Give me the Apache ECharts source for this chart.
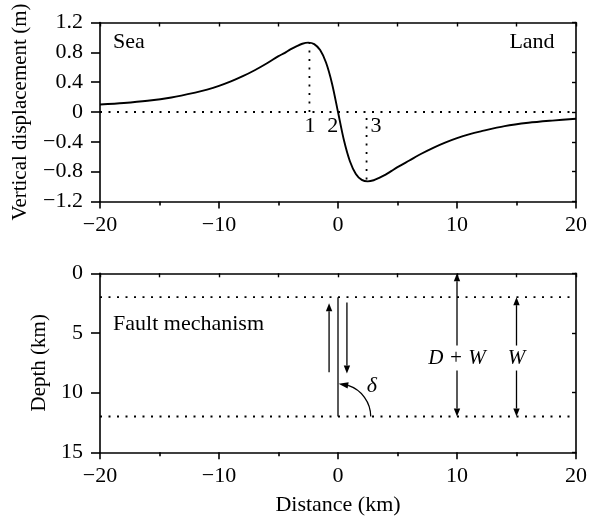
<!DOCTYPE html>
<html>
<head>
<meta charset="utf-8">
<script src="https://cdn.jsdelivr.net/npm/echarts@6/dist/echarts.min.js"></script>
<style>
html, body { margin: 0; padding: 0; background: #fff; }
#chart { width: 589px; height: 521px; }
</style>
</head>
<body>
<div id="chart"></div>
<script>
// Vertical surface displacement across the fault trace (distance in km, displacement in m)
const distanceKm = [-20, -18, -16, -14, -12, -11, -10, -9, -8, -7, -6, -5, -4.5, -4, -3.5, -3, -2.5, -2, -1.5, -1, -0.5,
  0, 0.5, 1, 1.5, 2, 2.5, 3, 3.5, 4, 4.5, 5, 6, 7, 8, 9, 10, 11, 12, 14, 16, 18, 20];
const displacementM = [0.10, 0.12, 0.15, 0.195, 0.26, 0.30, 0.35, 0.41, 0.48, 0.56, 0.65, 0.75, 0.79, 0.84, 0.88, 0.915, 0.93, 0.91, 0.83, 0.66, 0.38,
  0, -0.38, -0.66, -0.83, -0.91, -0.93, -0.915, -0.88, -0.84, -0.79, -0.74, -0.65, -0.56, -0.48, -0.41, -0.35, -0.30, -0.26, -0.19, -0.145, -0.115, -0.09];

// Reference points on the profile: 1 = crest, 2 = zero crossing, 3 = trough
const crest = { x: -2.4, y: 0.93 };
const trough = { x: 2.4, y: -0.93, top: -0.08 };
const pointNames = ['1', '2', '3'];
const pointNameX = [-2.35, -0.45, 3.2];
const pointNameY = -0.19;

// Fault model (km): vertical fault from depth D to D + W
const faultX = 0;
const faultTopKm = 2;
const faultBottomKm = 12;
const slipArrows = [
  { x: -0.75, from: 8.3, to: 2.5 },   // up-thrown side
  { x: 0.75, from: 2.45, to: 8.4 }    // down-thrown side
];
const dimensionArrows = [
  { x: 10, from: 0, to: 12, name: 'D + W' },
  { x: 15, from: 2, to: 12, name: 'W' }
];
const dimensionNameDepth = 7.1;
const dipAngleRadiusKm = 2.75;
const dipLabel = { x: 2.85, depth: 9.45, name: 'δ' };

const FONT = 'Liberation Serif, Times New Roman, serif';
const FS = 22;
const INK = '#000';

const fmt = v => {
  const r = Math.round(v * 10) / 10;
  return r < 0 ? '\u2212' + String(-r) : String(r);
};

function bottomX(gridIndex, withName) {
  return {
    type: 'value', gridIndex, position: 'bottom', min: -20, max: 20, interval: 10,
    axisLine: { onZero: false, lineStyle: { color: INK, width: 1.6 } },
    axisTick: { show: true, inside: false, length: 7, lineStyle: { color: INK, width: 1.6 } },
    minorTick: { show: true, splitNumber: 2, length: 4, lineStyle: { color: INK, width: 1.6 } },
    axisLabel: { margin: 13, fontFamily: FONT, fontSize: FS, color: INK, formatter: fmt },
    splitLine: { show: false },
    name: withName ? 'Distance (km)' : '',
    nameLocation: 'middle', nameGap: 42,
    nameTextStyle: { fontFamily: FONT, fontSize: FS, color: INK }
  };
}
function topX(gridIndex) {
  return {
    type: 'value', gridIndex, position: 'top', min: -20, max: 20, interval: 5,
    axisLine: { onZero: false, lineStyle: { color: INK, width: 1.6 } },
    axisTick: { show: true, inside: true, length: 4, lineStyle: { color: INK, width: 1.4 } },
    axisLabel: { show: false }, splitLine: { show: false }
  };
}
function leftY(gridIndex, opts) {
  return Object.assign({
    type: 'value', gridIndex, position: 'left',
    axisLine: { onZero: false, lineStyle: { color: INK, width: 1.6 } },
    axisTick: { show: true, inside: false, length: 9, lineStyle: { color: INK, width: 1.6 } },
    axisLabel: { margin: 17, fontFamily: FONT, fontSize: FS, color: INK, formatter: fmt },
    splitLine: { show: false },
    nameLocation: 'middle',
    nameTextStyle: { fontFamily: FONT, fontSize: 21, color: INK }
  }, opts);
}
function rightY(gridIndex, opts) {
  return Object.assign({
    type: 'value', gridIndex, position: 'right',
    axisLine: { onZero: false, lineStyle: { color: INK, width: 1.6 } },
    axisTick: { show: true, inside: true, length: 4, lineStyle: { color: INK, width: 1.4 } },
    axisLabel: { show: false }, splitLine: { show: false }
  }, opts);
}

const dotted = { color: INK, width: 1.8, type: [2, 6.5], cap: 'butt' };

function lineSeg(xi, yi, pts, style, z) {
  return {
    type: 'line', xAxisIndex: xi, yAxisIndex: yi, data: pts, symbol: 'none',
    lineStyle: style, silent: true, z: z || 2, animation: false
  };
}

// Text placed in data coordinates
function textSeries(xi, yi, items, style) {
  return {
    type: 'custom', xAxisIndex: xi, yAxisIndex: yi, silent: true, z: 6, animation: false,
    data: items.map((t, i) => [t.x, t.y, i]),
    renderItem(params, api) {
      const p = api.coord([api.value(0), api.value(1)]);
      const t = items[api.value(2)];
      return {
        type: 'text', x: p[0], y: p[1],
        style: Object.assign({
          text: t.text, fontFamily: FONT, fontSize: FS, fill: INK,
          align: t.align || 'center', verticalAlign: 'middle'
        }, style)
      };
    }
  };
}

// Vertical arrows: [x, fromDepth, toDepth, headAtFrom, headAtTo]
function arrowSeries(items) {
  return {
    type: 'custom', xAxisIndex: 2, yAxisIndex: 2, silent: true, z: 4, animation: false,
    data: items,
    renderItem(params, api) {
      const a = api.coord([api.value(0), api.value(1)]);
      const b = api.coord([api.value(0), api.value(2)]);
      const headLen = 8, half = 3.2;
      const dir = Math.sign(b[1] - a[1]);
      const y1 = api.value(3) ? a[1] + dir * headLen : a[1];
      const y2 = api.value(4) ? b[1] - dir * headLen : b[1];
      const children = [{
        type: 'line', shape: { x1: a[0], y1: y1, x2: b[0], y2: y2 },
        style: { stroke: INK, lineWidth: 1.3 }
      }];
      const head = (tip, d) => ({
        type: 'polygon',
        shape: { points: [[tip[0], tip[1]], [tip[0] - half, tip[1] - d * headLen], [tip[0] + half, tip[1] - d * headLen]] },
        style: { fill: INK }
      });
      if (api.value(3)) children.push(head(a, -dir));
      if (api.value(4)) children.push(head(b, dir));
      return { type: 'group', children };
    }
  };
}

const arrowRows = []
  .concat(slipArrows.map(s => [s.x, s.from, s.to, 0, 1]))
  .concat(dimensionArrows.map(d => [d.x, d.from, d.to, 1, 1]));

// Dip angle arc swept from the surface-parallel direction up to the fault
const dipArcSeries = {
  type: 'custom', xAxisIndex: 2, yAxisIndex: 2, silent: true, z: 4, animation: false,
  data: [[faultX, faultBottomKm, dipAngleRadiusKm]],
  renderItem(params, api) {
    const c = api.coord([api.value(0), api.value(1)]);
    const e = api.coord([api.value(0) + api.value(2), api.value(1)]);
    const r = e[0] - c[0];
    const endA = -72 * Math.PI / 180, tipA = -89 * Math.PI / 180;
    const pt = ang => [c[0] + r * Math.cos(ang), c[1] + r * Math.sin(ang)];
    const tip = pt(tipA), base = pt(endA);
    const dx = tip[0] - base[0], dy = tip[1] - base[1];
    const len = Math.hypot(dx, dy);
    const nx = -dy / len * 3.2, ny = dx / len * 3.2;
    return {
      type: 'group',
      children: [
        { type: 'arc', shape: { cx: c[0], cy: c[1], r: r, startAngle: 0, endAngle: endA, clockwise: false },
          style: { stroke: INK, lineWidth: 1.3, fill: null } },
        { type: 'polygon', shape: { points: [tip, [base[0] + nx, base[1] + ny], [base[0] - nx, base[1] - ny]] },
          style: { fill: INK } }
      ]
    };
  }
};

const chart = echarts.init(document.getElementById('chart'), null, { renderer: 'canvas' });
chart.setOption({
  animation: false,
  backgroundColor: '#fff',
  grid: [
    { left: 100, top: 22.5, width: 476, height: 179, outerBoundsMode: 'none', containLabel: false },
    { left: 100, top: 273.3, width: 476, height: 179, outerBoundsMode: 'none', containLabel: false }
  ],
  xAxis: [bottomX(0, false), topX(0), bottomX(1, true), topX(1)],
  yAxis: [
    leftY(0, { min: -1.2, max: 1.2, interval: 0.4, name: 'Vertical displacement (m)', nameGap: 69 }),
    rightY(0, { min: -1.2, max: 1.2, interval: 0.4 }),
    leftY(1, { min: 0, max: 15, interval: 5, inverse: true, name: 'Depth (km)', nameGap: 49 }),
    rightY(1, { min: 0, max: 15, interval: 5, inverse: true })
  ],
  series: [
    // top panel
    lineSeg(0, 0, [[-20, 0], [20, 0]], dotted),
    lineSeg(0, 0, [[crest.x, 0], [crest.x, crest.y]], dotted),
    lineSeg(0, 0, [[trough.x, trough.top], [trough.x, trough.y]], dotted),
    {
      type: 'line', xAxisIndex: 0, yAxisIndex: 0, symbol: 'none', smooth: 0.3, z: 5,
      data: distanceKm.map((x, i) => [x, displacementM[i]]),
      lineStyle: { color: INK, width: 1.9 }, silent: true, animation: false
    },
    textSeries(0, 0, pointNames.map((t, i) => ({ x: pointNameX[i], y: pointNameY, text: t })), {}),
    textSeries(0, 0, [
      { x: -18.9, y: 0.93, text: 'Sea', align: 'left' },
      { x: 18.2, y: 0.93, text: 'Land', align: 'right' }
    ], {}),
    // bottom panel
    lineSeg(2, 2, [[-20, faultTopKm], [20, faultTopKm]], dotted),
    lineSeg(2, 2, [[-20, faultBottomKm], [20, faultBottomKm]], dotted),
    lineSeg(2, 2, [[faultX, faultTopKm], [faultX, faultBottomKm]], { color: INK, width: 1.3 }, 3),
    arrowSeries(arrowRows),
    dipArcSeries,
    textSeries(2, 2, [{ x: -18.9, y: 4.25, text: 'Fault mechanism', align: 'left' }], {}),
    textSeries(2, 2, dimensionArrows.map(d => ({ x: d.x, y: dimensionNameDepth, text: d.name })),
      { fontStyle: 'italic', fontSize: 21, backgroundColor: '#fff', padding: [2, 1] }),
    textSeries(2, 2, [{ x: dipLabel.x, y: dipLabel.depth, text: dipLabel.name }], { fontStyle: 'italic', fontSize: 22 })
  ]
});
</script>
</body>
</html>
